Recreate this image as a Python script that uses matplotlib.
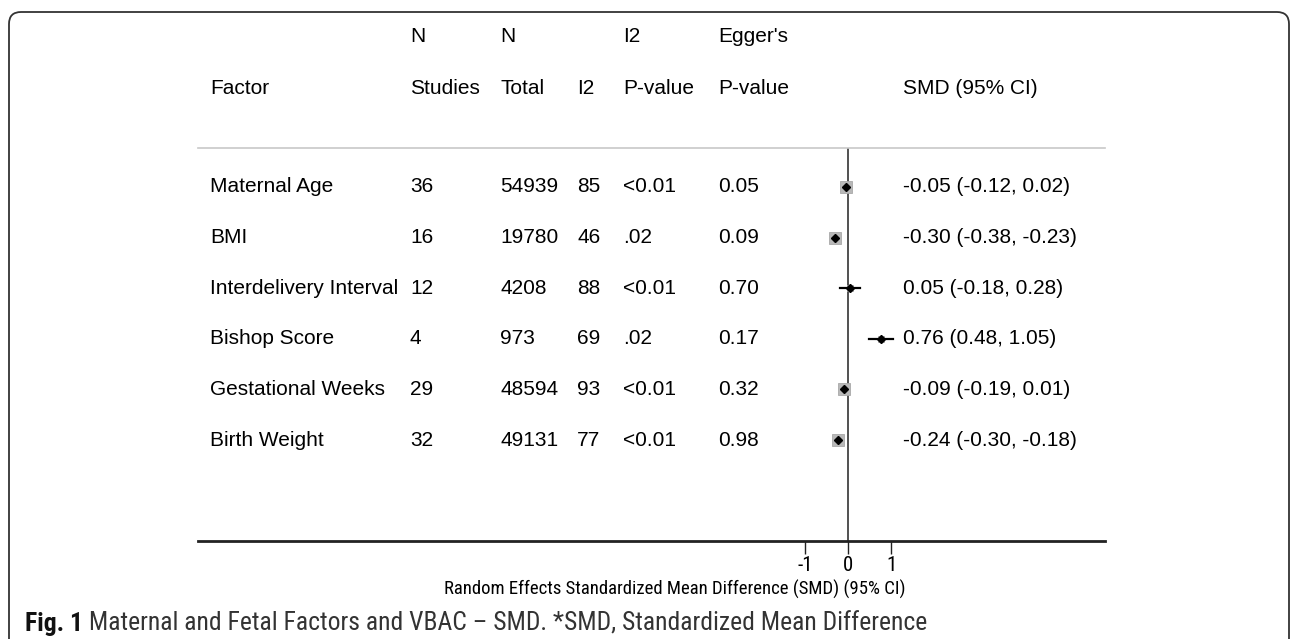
import matplotlib
matplotlib.use("Agg")
import matplotlib.pyplot as plt
from matplotlib import font_manager
from matplotlib.patches import FancyBboxPatch
from matplotlib.transforms import IdentityTransform, blended_transform_factory

W, H = 1292, 639

factors = ["Maternal Age", "BMI", "Interdelivery Interval", "Bishop Score",
           "Gestational Weeks", "Birth Weight"]
n_studies = ["36", "16", "12", "4", "29", "32"]
n_total = ["54939", "19780", "4208", "973", "48594", "49131"]
i2 = ["85", "46", "88", "69", "93", "77"]
i2_p = ["<0.01", ".02", "<0.01", ".02", "<0.01", "<0.01"]
egger_p = ["0.05", "0.09", "0.70", "0.17", "0.32", "0.98"]
smd = [-0.05, -0.30, 0.05, 0.76, -0.09, -0.24]
ci_low = [-0.12, -0.38, -0.18, 0.48, -0.19, -0.30]
ci_high = [0.02, -0.23, 0.28, 1.05, 0.01, -0.18]
xticks = [-1, 0, 1]
caption_bold = "Fig. 1"
caption_rest = (" Maternal and Fetal Factors and VBAC \u2013 SMD. *SMD, "
                "Standardized Mean Difference")
xlabel = "Random Effects Standardized Mean Difference (SMD) (95% CI)"

# box sizes (points) as drawn in the reference
box_size = [8.5, 8.2, 5, 5, 8.5, 8.2]


def _w(w):
    return font_manager.weight_dict.get(w, 400) if isinstance(w, str) else int(w)


# condensed faces installed, with their weights
faces = {}
for f in font_manager.fontManager.ttflist:
    if ("Narrow" in f.name or "Condensed" in f.name) and f.style == "normal":
        faces.setdefault(f.name, set()).add(_w(f.weight))


def pick(prefs):
    """first preferred family that has a regular (~400) face"""
    for p in prefs + sorted(faces):
        if p in faces and any(abs(w - 400) <= 50 for w in faces[p]):
            return p
    return "DejaVu Sans"


def nearest(family, target):
    ws = faces.get(family, {target})
    return min(ws, key=lambda w: abs(w - target))


AXIS_FONT = pick(["Liberation Sans Narrow", "Arimo Narrow", "Roboto Condensed",
                  "Noto Sans Condensed", "Open Sans Condensed"])
CAP_FONT = pick(["Open Sans Condensed", "Noto Sans Condensed",
                 "Roboto Condensed", "Liberation Sans Narrow"])
AXIS_W = nearest(AXIS_FONT, 400)
CAP_W, CAP_BOLD = nearest(CAP_FONT, 400), nearest(CAP_FONT, 700)

plt.rcParams["font.family"] = ["Liberation Sans", "DejaVu Sans"]


def fx(x):
    return x / W


def fy(y):
    return 1 - y / H


fig = plt.figure(figsize=(W / 100, H / 100), dpi=100)
renderer = fig.canvas.get_renderer()


def fit_size(text, width_px, **kw):
    """font size that makes `text` span width_px pixels"""
    t = fig.text(0, 0, text, fontsize=10, **kw)
    w = t.get_window_extent(renderer).width
    t.remove()
    return 10 * width_px / w


# forest panel: zero at x=848 px, 43 px per unit
x0, x1, zero, scale = 198, 1105, 848, 43.0
y_top, y_bot, row0, step = 148, 541, 187, 50.6
ax = fig.add_axes([fx(x0), fy(y_bot), (x1 - x0) / W, (y_bot - y_top) / H])
ax.set_xlim((x0 - zero) / scale, (x1 - zero) / scale)
ax.set_ylim(-(y_bot - row0) / step, (row0 - y_top) / step)
for s in ("top", "left", "right"):
    ax.spines[s].set_visible(False)
ax.spines["bottom"].set_linewidth(2.0)
ax.spines["bottom"].set_color("#222222")
ax.set_yticks([])
ax.set_xticks(xticks)
ax.set_xticklabels([str(t) for t in xticks], fontsize=15,
                   fontfamily=AXIS_FONT, fontweight=AXIS_W)
ax.tick_params(axis="x", direction="out", length=9, width=1, pad=2,
               color="#222222")

lab_size = fit_size(xlabel, 460, fontfamily=AXIS_FONT, fontweight=AXIS_W)
ax.set_xlabel(xlabel, fontsize=lab_size, ha="right", va="top",
              fontfamily=AXIS_FONT, fontweight=AXIS_W)
ax.xaxis.set_label_coords((905 - x0) / (x1 - x0), -(580 - y_bot) / (y_bot - y_top))
ax.axvline(0, color="#333333", lw=1.2, zorder=1)

rows = [-i for i in range(len(factors))]
for r, m, lo, hi, bs in zip(rows, smd, ci_low, ci_high, box_size):
    ax.plot([lo, hi], [r, r], color="black", lw=1.6, zorder=2)
    ax.plot(m, r, marker="s", ms=bs, color="#b8b8b8", mec="#a8a8a8",
            mew=0.6, zorder=3)
    ax.plot(m, r, marker="D", ms=3.8, color="black", zorder=4)

# header
c_fac, c_st, c_tot, c_i2, c_i2p, c_egg, c_smd = 210, 410, 500, 577, 623, 718, 903
hdr1 = [(c_st, "N"), (c_tot, "N"), (c_i2p, "I2"), (c_egg, "Egger's")]
hdr2 = [(c_fac, "Factor"), (c_st, "Studies"), (c_tot, "Total"), (c_i2, "I2"),
        (c_i2p, "P-value"), (c_egg, "P-value"), (c_smd, "SMD (95% CI)")]
for x, t in hdr1:
    fig.text(fx(x), fy(37), t, fontsize=15, va="center", ha="left")
for x, t in hdr2:
    fig.text(fx(x), fy(89), t, fontsize=15, va="center", ha="left")
fig.add_artist(plt.Line2D([fx(198), fx(1105)], [fy(148), fy(148)],
                          color="#c8c8c8", lw=1.2))

# table rows, y in data units of the forest panel
tr = blended_transform_factory(fig.transFigure, ax.transData)
cols = [(c_fac, factors), (c_st, n_studies), (c_tot, n_total), (c_i2, i2),
        (c_i2p, i2_p), (c_egg, egger_p)]
for x, vals in cols:
    for r, v in zip(rows, vals):
        ax.text(fx(x), r, v, transform=tr, fontsize=15, va="center",
                ha="left", clip_on=False)
for r, m, lo, hi in zip(rows, smd, ci_low, ci_high):
    ax.text(fx(c_smd), r, f"{m:.2f} ({lo:.2f}, {hi:.2f})", transform=tr,
            fontsize=15, va="center", ha="left", clip_on=False)

# caption, sized so it ends a little right of the axis label
cap_size = fit_size(caption_bold + caption_rest, 900, fontfamily=CAP_FONT,
                    fontweight=CAP_W)
t1 = fig.text(fx(25), fy(624), caption_bold, fontweight=CAP_BOLD,
              fontsize=cap_size, va="center", ha="left", color="#111111",
              fontfamily=CAP_FONT)
ax.annotate(caption_rest, xy=(1, 0.5), xycoords=t1, va="center", ha="left",
            fontsize=cap_size, color="#333333", annotation_clip=False,
            fontfamily=CAP_FONT, fontweight=CAP_W)

# rounded frame
frame = FancyBboxPatch((9, -40), 1280, H - 12 + 40,
                       boxstyle="round,pad=0,rounding_size=12",
                       transform=IdentityTransform(), fill=False,
                       ec="#333333", lw=1.3)
fig.add_artist(frame)

fig.savefig("out.png", dpi=100)
